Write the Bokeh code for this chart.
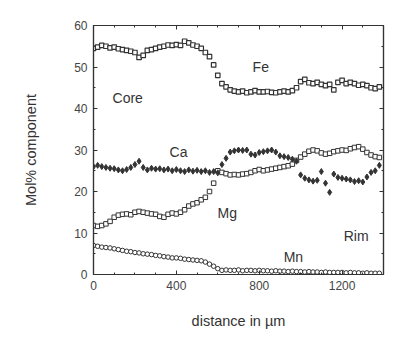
from bokeh.plotting import figure
from bokeh.models import Range1d, LinearAxis, SingleIntervalTicker, ColumnDataSource
from bokeh.core.properties import value
from bokeh.embed import file_html
from bokeh.resources import INLINE

# sampling grid of distances (µm)
distance = list(range(0, 1400, 20))

fe = [54.5, 54.8, 55.2, 55.0, 54.6, 54.8, 54.4, 54.2, 54.0, 53.8,
      53.5, 52.3, 52.8, 54.0, 54.2, 54.5, 54.8, 55.0, 55.3, 55.2,
      55.4, 55.2, 56.2, 55.8, 55.3, 55.0, 54.5, 53.5, 52.5, 50.5,
      48.0, 46.0, 45.2, 44.5, 44.2, 44.0, 44.2, 43.8, 44.0, 44.3,
      44.0, 44.0, 44.1, 43.9, 43.8, 44.0, 44.2, 44.0, 44.3, 45.0,
      46.5, 47.0, 46.2, 46.0, 46.3, 45.8, 45.5, 45.8, 44.5, 46.3,
      46.8, 46.0, 46.3, 46.0, 45.6, 45.8, 45.5, 45.0, 44.8, 45.2]

ca = [26.0, 26.3, 26.0, 25.8, 25.6, 25.5, 25.2, 25.0, 25.3, 25.8,
      26.5, 27.3, 25.8, 25.2, 25.6, 25.4, 25.5, 25.2, 25.4, 25.0,
      25.3, 25.0, 24.8, 25.2, 24.9, 25.1, 24.8, 25.0, 24.6, 24.8,
      24.5, 26.5, 28.0, 29.5, 29.8, 30.0, 29.9, 30.0, 29.0, 28.8,
      29.4, 29.6, 29.8, 30.0, 29.5, 28.6, 28.4, 28.2, 27.8, 27.3,
      24.0, 23.2, 22.8, 22.5, 22.7, 24.8, 22.0, 19.8, 24.2, 23.4,
      23.2, 23.0, 22.8, 22.4, 22.6, 22.3, 23.5, 24.6, 25.0, 26.3]

mg = [11.8, 11.6, 11.8, 12.2, 12.8, 13.8, 14.3, 14.5, 14.6, 14.4,
      15.0, 15.2, 15.0, 14.8, 14.6, 14.5, 14.0, 13.8, 14.5, 14.8,
      14.6, 15.0, 15.6, 16.5, 17.0, 17.3, 18.0, 18.6, 20.0, 22.0,
      25.0, 24.6, 24.3, 24.0, 24.1, 24.0, 24.2, 24.3, 24.6, 25.0,
      25.3, 25.0, 25.2, 25.4, 25.6, 25.8, 26.0, 26.2, 26.6, 27.5,
      28.3, 29.0, 29.7, 30.0, 29.8, 29.3, 29.0, 29.2, 29.6, 29.8,
      30.0, 29.9, 30.3, 30.6, 30.8, 30.2, 29.4, 28.8, 28.4, 28.2]

mn = [7.0, 6.8, 6.6, 6.5, 6.4, 6.2, 6.0, 5.8, 5.6, 5.5,
      5.3, 5.2, 5.0, 4.9, 4.8, 4.6, 4.5, 4.3, 4.2, 4.0,
      4.0, 3.9, 3.7, 3.6, 3.5, 3.4, 3.3, 3.0, 2.5, 2.0,
      1.4, 1.0, 1.1, 1.0, 1.0, 1.1, 0.9, 1.0, 1.0, 0.9,
      1.0, 0.9, 0.9, 0.8, 0.9, 0.8, 0.8, 0.7, 0.8, 0.7,
      0.7, 0.6, 0.7, 0.6, 0.6, 0.5, 0.6, 0.5, 0.5, 0.5,
      0.5, 0.4, 0.5, 0.4, 0.4, 0.3, 0.4, 0.3, 0.3, 0.3]

label_text = ["Core", "Fe", "Ca", "Mg", "Mn", "Rim"]
label_x = [92, 768, 367, 599, 918, 1208]
label_y = [42.6, 49.9, 29.4, 14.9, 4.1, 9.2]

FONT = "Liberation Sans"
INK = "#333333"

p = figure(width=387, height=342, frame_width=290, frame_height=249,
           output_backend="svg", toolbar_location=None,
           x_range=Range1d(0, 1400), y_range=Range1d(0, 60),
           min_border_left=93, min_border_right=4, min_border_top=25,
           min_border_bottom=68)
p.background_fill_color = "white"
p.border_fill_color = "white"
p.grid.visible = False
p.outline_line_color = INK
p.outline_line_width = 1.2

src = ColumnDataSource(dict(x=distance, fe=fe, ca=ca, mg=mg, mn=mn))
p.scatter("x", "mn", source=src, marker="circle", size=4.5,
          fill_color="white", line_color=INK, line_width=1)
p.scatter("x", "mg", source=src, marker="square", size=4.5,
          fill_color="white", line_color=INK, line_width=1)
p.scatter("x", "ca", source=src, marker="diamond", size=6,
          fill_color=INK, line_color=INK, line_width=1)
p.scatter("x", "fe", source=src, marker="square", size=4.5,
          fill_color="white", line_color=INK, line_width=1.2)

p.text(x=label_x, y=label_y, text=label_text, text_font=value(FONT),
       text_font_size="14px", text_color=INK, text_baseline="middle",
       text_align="left")


def style(ax, show):
    ax.axis_line_color = INK
    ax.axis_line_width = 1.2
    ax.major_tick_in = 4
    ax.major_tick_out = 0
    ax.minor_tick_in = 2
    ax.minor_tick_out = 0
    ax.major_tick_line_color = INK
    ax.minor_tick_line_color = INK
    ax.major_label_text_font = FONT
    ax.major_label_text_font_size = "12px"
    ax.major_label_text_color = "#444444" if show else None
    ax.axis_label_text_font = FONT
    ax.axis_label_text_font_style = "normal"
    ax.axis_label_text_font_size = "14.5px"
    ax.axis_label_text_color = INK


p.xaxis.ticker = SingleIntervalTicker(interval=400, num_minor_ticks=4)
p.yaxis.ticker = SingleIntervalTicker(interval=10, num_minor_ticks=2)
style(p.xaxis[0], True)
style(p.yaxis[0], True)
p.xaxis.axis_label = "distance in µm"
p.yaxis.axis_label = "Mol% component"
p.xaxis.major_label_standoff = 6
p.yaxis.major_label_standoff = 6
p.xaxis.axis_label_standoff = 20
p.yaxis.axis_label_standoff = 32

ra = LinearAxis(ticker=SingleIntervalTicker(interval=10, num_minor_ticks=2))
style(ra, False)
ra.major_label_text_font_size = "0px"
p.add_layout(ra, "right")
ta = LinearAxis(ticker=SingleIntervalTicker(interval=400, num_minor_ticks=4))
style(ta, False)
ta.major_label_text_font_size = "0px"
p.add_layout(ta, "above")

open("out.html", "w").write(file_html(p, INLINE))
